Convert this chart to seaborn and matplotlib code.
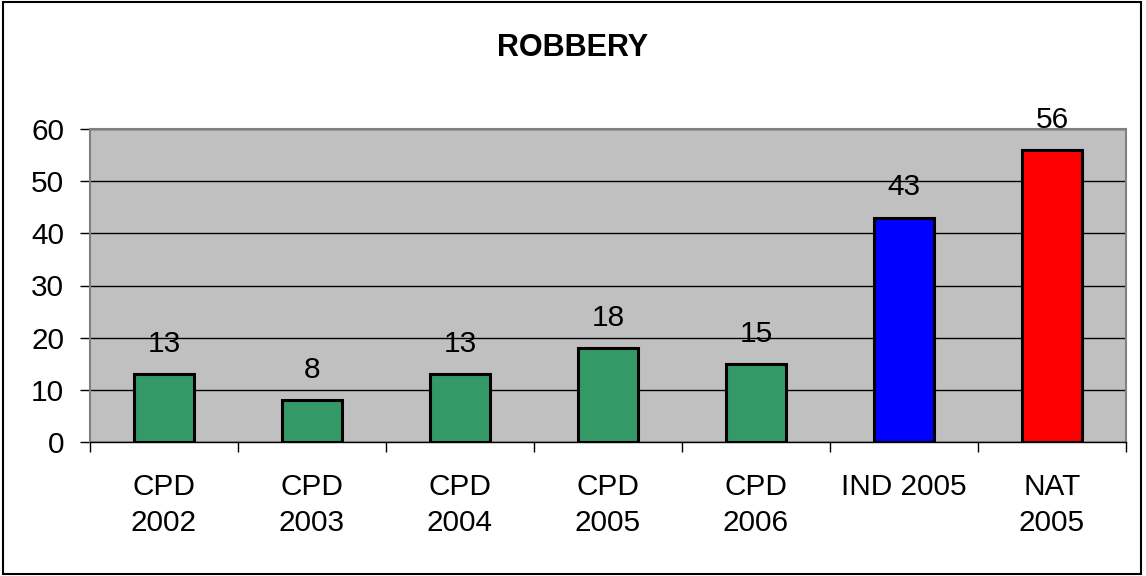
import matplotlib
matplotlib.use("Agg")
import matplotlib.pyplot as plt
import seaborn as sns
import pandas as pd
from matplotlib.patches import Rectangle

categories = ["CPD\n2002", "CPD\n2003", "CPD\n2004", "CPD\n2005", "CPD\n2006", "IND 2005", "NAT\n2005"]
values = [13, 8, 13, 18, 15, 43, 56]
colors = ["#339966", "#339966", "#339966", "#339966", "#339966", "#0000FF", "#FF0000"]
title = "ROBBERY"

sns.set_theme(style="white")
plt.rcParams['font.family'] = ['Liberation Sans', 'DejaVu Sans']
plt.rcParams['text.color'] = 'black'
plt.rcParams['xtick.color'] = 'black'
plt.rcParams['ytick.color'] = 'black'

df = pd.DataFrame({"cat": categories, "val": values})

fig = plt.figure(figsize=(11.46, 5.76), dpi=100)
ax = fig.add_axes([90/1146, (576-442)/576, (1126-90)/1146, (442-129)/576])
ax.set_facecolor("#C0C0C0")

sns.barplot(data=df, x="cat", y="val", hue="cat", palette=colors, legend=False, saturation=1,
            width=0.405, edgecolor="black", linewidth=2.2, ax=ax, zorder=3)

ax.set_ylim(0, 60)
ax.set_xlim(-0.5, len(categories) - 0.5)
ax.set_yticks(range(0, 61, 10))
ax.yaxis.grid(True, color="black", linewidth=1, zorder=1)
ax.set_axisbelow(True)
ax.set_xlabel("")
ax.set_ylabel("")

FS = 21.4
ax.set_xticks(range(len(categories)))
ax.set_xticklabels(categories, fontsize=FS, linespacing=1.35, color="black")
ax.tick_params(axis="x", which="major", length=0, pad=22.5)
ax.set_xticks([i - 0.5 for i in range(len(categories) + 1)], minor=True)
ax.tick_params(axis="x", which="minor", length=7.5, width=1, color="black", direction="out", bottom=True)
ax.tick_params(axis="y", length=7.5, width=1, color="black", labelcolor="black",
               direction="out", left=True, labelsize=FS, pad=11)

for s in ["top", "right", "left"]:
    ax.spines[s].set_color("#808080")
    ax.spines[s].set_linewidth(1.5)
ax.spines["bottom"].set_color("black")
ax.spines["bottom"].set_linewidth(1)

for i, v in enumerate(values):
    ax.annotate(str(v), xy=(i, v), xytext=(0, 16), textcoords="offset points",
                ha="center", va="baseline", fontsize=FS, color="black", annotation_clip=False)

fig.text(0.5, 1 - 48/576, title, ha="center", va="center", fontsize=22,
         fontweight="bold", color="black")

fig.patches.append(Rectangle((3/1146, 2/576), 1138/1146, 572/576, transform=fig.transFigure,
                             fill=False, edgecolor="black", linewidth=1.5))

fig.savefig("out.png", dpi=100)
